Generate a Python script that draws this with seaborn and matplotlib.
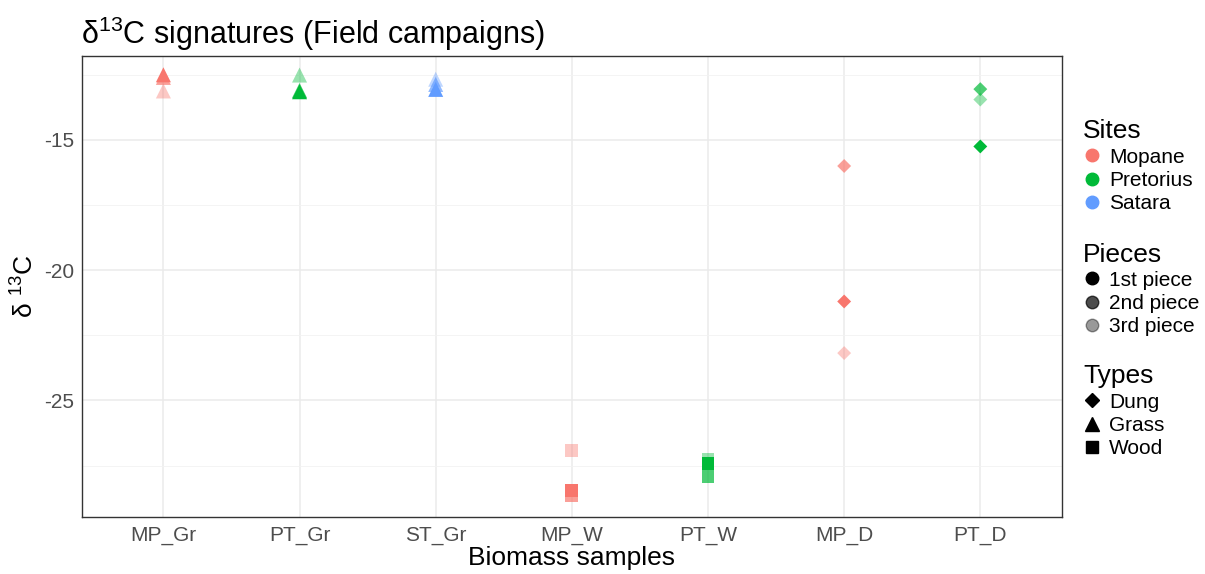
import matplotlib
matplotlib.use("Agg")
import matplotlib.pyplot as plt
from matplotlib.lines import Line2D
import seaborn as sns
import pandas as pd

samples = ["MP_Gr", "PT_Gr", "ST_Gr", "MP_W", "PT_W", "MP_D", "PT_D"]
sites = ["Mopane", "Pretorius", "Satara", "Mopane", "Pretorius", "Mopane", "Pretorius"]
types = ["Grass", "Grass", "Grass", "Wood", "Wood", "Dung", "Dung"]
piece1 = [-12.5, -13.15, -13.06, -28.46, -27.43, -21.2, -15.25]
piece2 = [-12.6, -13.1, -12.87, -28.65, -27.92, -16.0, -13.05]
piece3 = [-13.12, -12.51, -12.67, -26.91, -27.28, -23.18, -13.45]
piece_names = ["1st piece", "2nd piece", "3rd piece"]
site_names = ["Mopane", "Pretorius", "Satara"]
type_names = ["Dung", "Grass", "Wood"]

palette = {"Mopane": "#F8766D", "Pretorius": "#00BA38", "Satara": "#619CFF"}
alphas = {"1st piece": 1.0, "2nd piece": 0.7, "3rd piece": 0.4}
markers = {"Dung": "D", "Grass": "^", "Wood": "s"}
sizes = {"Dung": 50, "Grass": 117, "Wood": 85}

rows = []
for vals, pn in zip([piece1, piece2, piece3], piece_names):
    for s, si, t, v in zip(samples, sites, types, vals):
        rows.append({"sample": s, "site": si, "type": t, "piece": pn, "d13C": v})
df = pd.DataFrame(rows)
df["x"] = df["sample"].map({s: i for i, s in enumerate(samples)})

sns.set_style("white")
plt.rcParams["font.family"] = ["Liberation Sans", "DejaVu Sans"]
plt.rcParams["mathtext.fontset"] = "custom"
plt.rcParams["mathtext.rm"] = "Liberation Sans"
plt.rcParams["mathtext.it"] = "Liberation Sans:italic"
plt.rcParams["axes.unicode_minus"] = False
plt.rcParams["text.color"] = "black"
plt.rcParams["axes.labelcolor"] = "black"

fig = plt.figure(figsize=(12.05, 5.74), dpi=100)
ax = fig.add_axes([81.7 / 1205, 57.3 / 574, (1062 - 81.7) / 1205, (516.7 - 56.3) / 574])

for pn in piece_names:
    sub = df[df["piece"] == pn]
    sns.scatterplot(data=sub, x="x", y="d13C", hue="site", style="type", size="type",
                    palette=palette, markers=markers, sizes=sizes, alpha=alphas[pn],
                    linewidth=0, legend=False, ax=ax, zorder=3)

ax.set_xlim(-0.6, len(samples) - 1 + 0.6)
ax.set_ylim(-29.46, -11.79)
ax.set_xticks(range(len(samples)))
ax.set_xticklabels(samples)
ax.set_yticks([-25, -20, -15])
ax.set_yticks([-27.5, -22.5, -17.5, -12.5], minor=True)
ax.grid(True, which="major", color="#EBEBEB", linewidth=1.1, zorder=0)
ax.grid(True, which="minor", axis="y", color="#F2F2F2", linewidth=0.6, zorder=0)
ax.set_axisbelow(True)
for sp in ax.spines.values():
    sp.set_color("#333333")
    sp.set_linewidth(1.0)
ax.tick_params(axis="both", which="major", length=3, color="#333333",
               labelcolor="#4D4D4D", labelsize=15, direction="out", width=0.8, pad=2.5)
ax.tick_params(axis="x", which="major", pad=3.5)
ax.tick_params(axis="both", which="minor", length=0)

ax.set_xlabel("Biomass samples", fontsize=19, labelpad=1)
ax.set_ylabel(r"δ $^{13}$C", fontsize=19, labelpad=4)
ax.set_title(r"δ$^{13}$C signatures (Field campaigns)", fontsize=22, loc="left",
             x=-0.001, pad=9)

site_handles = [Line2D([], [], marker="o", linestyle="", color=palette[s], markersize=9)
                for s in site_names]
piece_handles = [Line2D([], [], marker="o", linestyle="", color="black", alpha=alphas[p],
                        markersize=9) for p in piece_names]
type_handles = [Line2D([], [], marker=markers[t], linestyle="", color="black",
                       markersize=(7 if t == "Dung" else 9.5 if t == "Grass" else 8.5))
                for t in type_names]

common = dict(frameon=False, loc="upper left", fontsize=15, title_fontsize=19,
              alignment="left", handletextpad=0.35, handlelength=0.9, labelspacing=0.2,
              borderpad=0, borderaxespad=0)
leg1 = fig.legend(site_handles, site_names, title="Sites",
                  bbox_to_anchor=(1083 / 1205, 1 - 119.5 / 574), **common)
leg2 = fig.legend(piece_handles, piece_names, title="Pieces",
                  bbox_to_anchor=(1083 / 1205, 1 - 242.5 / 574), **common)
leg3 = fig.legend(type_handles, type_names, title="Types",
                  bbox_to_anchor=(1083 / 1205, 1 - 364.5 / 574), **common)

fig.savefig("out.png", dpi=100, facecolor="white")
